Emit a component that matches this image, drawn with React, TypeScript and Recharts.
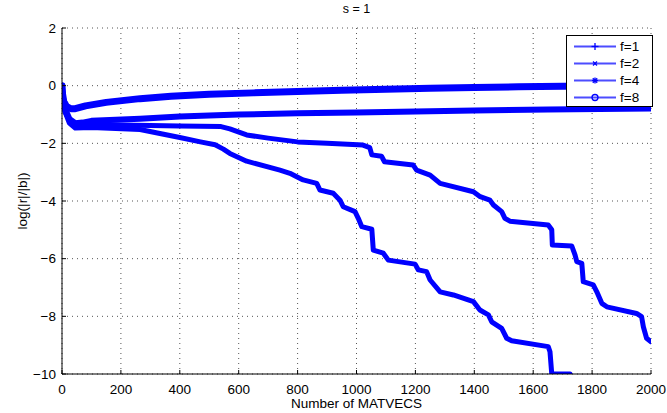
import React from 'react'
import { CartesianGrid, Line, LineChart, XAxis, YAxis } from 'recharts'

const X_TICKS = [0, 200, 400, 600, 800, 1000, 1200, 1400, 1600, 1800, 2000]
const Y_TICKS = [-10, -8, -6, -4, -2, 0, 2]

// f=1 (+ markers)
const F1_X = [0, 3, 10, 25, 45, 100, 265, 400, 470, 520, 548, 570, 627, 740, 774, 797, 819, 865, 876, 921, 944, 955, 995, 1006, 1018, 1052, 1057, 1091, 1108, 1199, 1210, 1238, 1250, 1284, 1329, 1397, 1419, 1448, 1459, 1493, 1510, 1527, 1651, 1657, 1663, 1725]
const F1_Y = [0, -0.4, -0.9, -1.3, -1.47, -1.45, -1.52, -1.8, -1.95, -2.05, -2.2, -2.35, -2.62, -2.93, -3.04, -3.16, -3.27, -3.39, -3.62, -3.73, -3.97, -4.2, -4.37, -4.6, -4.89, -4.98, -5.7, -5.81, -6.05, -6.19, -6.39, -6.45, -6.74, -7.15, -7.26, -7.49, -7.78, -7.95, -8.19, -8.42, -8.76, -8.85, -9.05, -9.23, -10, -10]

// f=2 (x markers)
const F2_X = [0, 3, 10, 25, 45, 80, 200, 400, 540, 570, 627, 700, 800, 900, 1022, 1045, 1052, 1085, 1095, 1192, 1204, 1250, 1284, 1397, 1420, 1453, 1465, 1493, 1504, 1521, 1651, 1663, 1665, 1731, 1742, 1748, 1765, 1770, 1804, 1816, 1833, 1850, 1951, 1968, 1974, 1985, 2000]
const F2_Y = [0, -0.4, -0.9, -1.2, -1.35, -1.33, -1.36, -1.4, -1.42, -1.5, -1.71, -1.82, -1.95, -2.0, -2.06, -2.15, -2.4, -2.45, -2.64, -2.75, -2.93, -3.1, -3.39, -3.68, -3.85, -3.97, -4.14, -4.37, -4.6, -4.7, -4.83, -5.0, -5.53, -5.56, -5.87, -6.1, -6.16, -6.8, -6.91, -7.15, -7.55, -7.67, -7.9, -8.01, -8.36, -8.76, -8.88]

// f=4 (* markers)
const F4_X = [0, 3, 10, 25, 45, 70, 100, 265, 400, 600, 800, 1000, 1200, 1400, 1650, 2000]
const F4_Y = [0, -0.4, -0.8, -1.15, -1.3, -1.28, -1.22, -1.15, -1.07, -1.0, -0.96, -0.93, -0.9, -0.86, -0.83, -0.79]

// f=8 (o markers)
const F8_X = [0, 2, 6, 15, 30, 45, 80, 150, 265, 370, 500, 650, 800, 950, 1100, 1250, 1400, 1550, 1700, 1850, 2000]
const F8_Y = [0, -0.3, -0.55, -0.72, -0.8, -0.8, -0.7, -0.58, -0.45, -0.37, -0.3, -0.25, -0.2, -0.16, -0.12, -0.09, -0.06, -0.04, -0.02, -0.01, 0]

const LABELS = ['f=1', 'f=2', 'f=4', 'f=8']
const MARKERS = ['+', 'x', '*', 'o']

const BLUE = '#0000ff'
const FONT = '"Liberation Sans", Arial, Helvetica, sans-serif'
const FS = 13.5
const X_MARGIN = 10
const Y_MARGIN = 6

const toPoints = (xs: number[], ys: number[]) => xs.map((x, i) => ({ x, y: ys[i] }))

const SERIES = [
  { name: LABELS[0], data: toPoints(F1_X, F1_Y), width: 5 },
  { name: LABELS[1], data: toPoints(F2_X, F2_Y), width: 5 },
  { name: LABELS[2], data: toPoints(F4_X, F4_Y), width: 6 },
  { name: LABELS[3], data: toPoints(F8_X, F8_Y), width: 7 },
]

const fmt = (v: number) => (v < 0 ? `\u2212${Math.abs(v)}` : String(v))

function XTick(props: any) {
  const { x, y, payload } = props
  const axisY = y - X_MARGIN
  return (
    <g>
      <line x1={x} x2={x} y1={axisY} y2={axisY - 4} stroke="#000" />
      <text x={x} y={y} dy="0.71em" textAnchor="middle" fontSize={FS} fontFamily={FONT} fill="#000">
        {payload.value}
      </text>
    </g>
  )
}

function YTick(props: any) {
  const { x, y, payload } = props
  const axisX = x + Y_MARGIN
  return (
    <g>
      <line x1={axisX} x2={axisX + 4} y1={y} y2={y} stroke="#000" />
      <text x={x} y={y} dy="0.355em" textAnchor="end" fontSize={FS} fontFamily={FONT} fill="#000">
        {fmt(payload.value)}
      </text>
    </g>
  )
}

function YLabel(props: any) {
  const vb = props.viewBox || { x: 0, y: 28, width: 62, height: 346 }
  const cx = vb.x + 22
  const cy = vb.y + vb.height / 2
  return (
    <text
      x={cx}
      y={cy}
      transform={`rotate(-90 ${cx} ${cy})`}
      textAnchor="middle"
      dominantBaseline="central"
      fontSize={FS}
      fontFamily={FONT}
      fill="#000"
    >
      log(|r|/|b|)
    </text>
  )
}

function Marker({ kind, cx, cy }: { kind: string; cx: number; cy: number }) {
  if (kind === '+') {
    return (
      <g stroke={BLUE} strokeWidth={1.3}>
        <line x1={cx - 3.5} x2={cx + 3.5} y1={cy} y2={cy} />
        <line x1={cx} x2={cx} y1={cy - 3.5} y2={cy + 3.5} />
      </g>
    )
  }
  if (kind === 'x') {
    return (
      <g stroke={BLUE} strokeWidth={1.3}>
        <line x1={cx - 2} x2={cx + 2} y1={cy - 2} y2={cy + 2} />
        <line x1={cx - 2} x2={cx + 2} y1={cy + 2} y2={cy - 2} />
      </g>
    )
  }
  if (kind === '*') {
    return (
      <g stroke={BLUE} strokeWidth={1.3}>
        <line x1={cx - 3} x2={cx + 3} y1={cy} y2={cy} />
        <line x1={cx} x2={cx} y1={cy - 3} y2={cy + 3} />
        <line x1={cx - 2.2} x2={cx + 2.2} y1={cy - 2.2} y2={cy + 2.2} />
        <line x1={cx - 2.2} x2={cx + 2.2} y1={cy + 2.2} y2={cy - 2.2} />
      </g>
    )
  }
  return <circle cx={cx} cy={cy} r={3} fill="none" stroke={BLUE} strokeWidth={1.3} />
}

function LegendBox() {
  return (
    <div
      style={{
        position: 'absolute',
        left: 566,
        top: 35,
        width: 85,
        height: 70,
        border: '1px solid #000',
        background: '#fff',
      }}
    >
      {LABELS.map((label, i) => (
        <div key={label} style={{ position: 'absolute', left: 0, top: 3 + i * 17, height: 17, width: 85 }}>
          <svg width={50} height={17} style={{ position: 'absolute', left: 6, top: 0 }}>
            <line x1={1} x2={43} y1={7.5} y2={7.5} stroke={BLUE} strokeWidth={2} strokeOpacity={0.7} />
            <Marker kind={MARKERS[i]} cx={22} cy={7.5} />
          </svg>
          <span
            style={{
              position: 'absolute',
              left: 53,
              top: -1,
              fontFamily: FONT,
              fontSize: FS,
              lineHeight: '17px',
              color: '#000',
            }}
          >
            {label}
          </span>
        </div>
      ))}
    </div>
  )
}

export default function App() {
  return (
    <div style={{ position: 'absolute', left: 0, top: 0, width: 667, height: 413, background: '#fff' }}>
      <LineChart width={667} height={413} margin={{ top: 28, right: 16, bottom: 0, left: 0 }}>
        <CartesianGrid stroke="#555" strokeDasharray="1 4" />
        <XAxis
          type="number"
          dataKey="x"
          domain={[0, 2000]}
          ticks={X_TICKS}
          allowDataOverflow
          height={39}
          tickSize={0}
          tickMargin={X_MARGIN}
          tickLine={false}
          tick={<XTick />}
          axisLine={{ stroke: '#000' }}
          label={{ value: 'Number of MATVECS', position: 'insideBottom', offset: 5, fontSize: FS, fontFamily: FONT, fill: '#000' }}
        />
        <YAxis
          type="number"
          dataKey="y"
          domain={[-10, 2]}
          ticks={Y_TICKS}
          allowDataOverflow
          width={62}
          tickSize={0}
          tickMargin={Y_MARGIN}
          tickLine={false}
          tick={<YTick />}
          axisLine={{ stroke: '#000' }}
          label={{ content: <YLabel /> }}
        />
        {SERIES.map((s) => (
          <Line
            key={s.name}
            data={s.data}
            dataKey="y"
            name={s.name}
            type="linear"
            stroke={BLUE}
            strokeWidth={s.width}
            strokeLinejoin="round"
            strokeLinecap="round"
            dot={false}
            isAnimationActive={false}
          />
        ))}
      </LineChart>
      <div
        style={{
          position: 'absolute',
          left: 62,
          width: 589,
          top: 2,
          textAlign: 'center',
          fontFamily: FONT,
          fontSize: 12.5,
          color: '#000',
        }}
      >
        s = 1
      </div>
      <LegendBox />
    </div>
  )
}
